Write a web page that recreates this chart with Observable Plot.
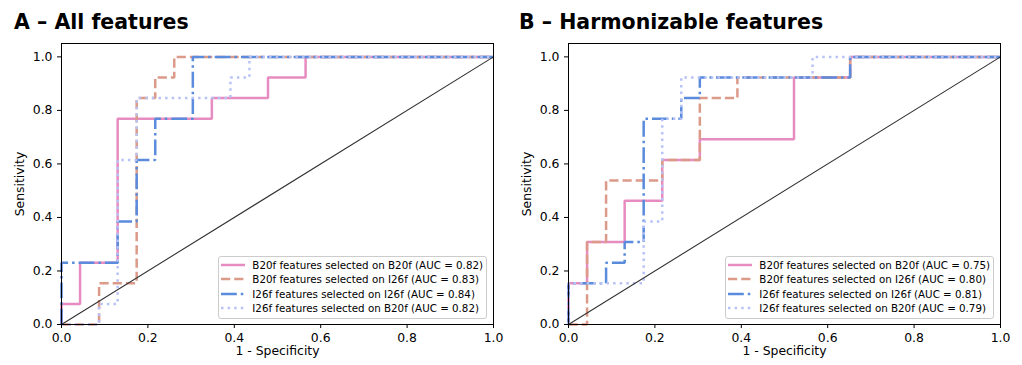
<!DOCTYPE html>
<html><head><meta charset="utf-8">
<script src="https://cdn.jsdelivr.net/npm/d3@7"></script>
<script src="https://cdn.jsdelivr.net/npm/@observablehq/plot@0.6"></script>
<style>
body{margin:0;background:#fff;}
#wrap{position:relative;width:1022px;height:365px;overflow:hidden;background:#fff;}
.panel{position:absolute;top:0;}
#titles{position:absolute;left:0;top:0;}
.legend{position:absolute;background:rgba(255,255,255,0.8);border:1px solid #cccccc;border-radius:3px;
  font-family:"DejaVu Sans",sans-serif;font-size:10.3px;color:#000;padding:1px 3px 2px 2px;}
.row{display:flex;align-items:center;height:14.5px;white-space:nowrap;}
.row svg{margin-right:7px;flex:none;}
</style></head><body>
<div id="wrap"></div>
<script>
// ---------- texts ----------
const panelTitles = ["A \u2013 All features", "B \u2013 Harmonizable features"];
const seriesNames = [
  "B20f features selected on B20f",
  "B20f features selected on I26f",
  "I26f features selected on I26f",
  "I26f features selected on B20f"
];
const aucA = [0.82, 0.83, 0.84, 0.82];
const aucB = [0.75, 0.80, 0.81, 0.79];
const xLabel = "1 - Specificity";
const yLabel = "Sensitivity";
const xTicks = [0, 0.2, 0.4, 0.6, 0.8, 1.0];
const yTicks = [0, 0.2, 0.4, 0.6, 0.8, 1.0];
const chanceLine = [0, 1];

// ---------- panel A: ROC points (1 - specificity, sensitivity) ----------
const fprA_b20b20 = [0, 0, 0.043, 0.043, 0.130, 0.130, 0.348, 0.348, 0.478, 0.478, 0.565, 0.565, 1];
const tprA_b20b20 = [0, 0.077, 0.077, 0.231, 0.231, 0.769, 0.769, 0.846, 0.846, 0.923, 0.923, 1, 1];
const fprA_b20i26 = [0, 0.087, 0.087, 0.174, 0.174, 0.217, 0.217, 0.261, 0.261, 1];
const tprA_b20i26 = [0, 0, 0.154, 0.154, 0.846, 0.846, 0.923, 0.923, 1, 1];
const fprA_i26i26 = [0, 0, 0.130, 0.130, 0.174, 0.174, 0.217, 0.217, 0.304, 0.304, 1];
const tprA_i26i26 = [0, 0.231, 0.231, 0.385, 0.385, 0.615, 0.615, 0.769, 0.769, 1, 1];
const fprA_i26b20 = [0, 0.087, 0.087, 0.130, 0.130, 0.174, 0.174, 0.391, 0.391, 0.435, 0.435, 1];
const tprA_i26b20 = [0, 0, 0.077, 0.077, 0.615, 0.615, 0.846, 0.846, 0.923, 0.923, 1, 1];

// ---------- panel B ----------
const fprB_b20b20 = [0, 0, 0.043, 0.043, 0.130, 0.130, 0.217, 0.217, 0.304, 0.304, 0.522, 0.522, 0.652, 0.652, 1];
const tprB_b20b20 = [0, 0.154, 0.154, 0.308, 0.308, 0.462, 0.462, 0.615, 0.615, 0.692, 0.692, 0.923, 0.923, 1, 1];
const fprB_b20i26 = [0, 0.043, 0.043, 0.087, 0.087, 0.217, 0.217, 0.304, 0.304, 0.391, 0.391, 0.652, 0.652, 1];
const tprB_b20i26 = [0, 0, 0.308, 0.308, 0.538, 0.538, 0.615, 0.615, 0.846, 0.846, 0.923, 0.923, 1, 1];
const fprB_i26i26 = [0, 0, 0.087, 0.087, 0.130, 0.130, 0.174, 0.174, 0.261, 0.261, 0.304, 0.304, 0.652, 0.652, 1];
const tprB_i26i26 = [0, 0.154, 0.154, 0.231, 0.231, 0.308, 0.308, 0.769, 0.769, 0.846, 0.846, 0.923, 0.923, 1, 1];
const fprB_i26b20 = [0, 0, 0.174, 0.174, 0.217, 0.217, 0.261, 0.261, 0.565, 0.565, 1];
const tprB_i26b20 = [0, 0.154, 0.154, 0.385, 0.385, 0.769, 0.769, 0.923, 0.923, 1, 1];

// ---------- styles ----------
const seriesColors = ["#e78cc1", "#dc9a88", "#5b8bdc", "#b7c3f6"];
const seriesDashes = ["none", "9.2,4", "15.8,4,2.5,4", "2.5,4.1"];
const lineWidth = 2.5;

const panels = [
  {title: panelTitles[0], auc: aucA, left: 0, marginLeft: 61, marginRight: 11,
   series: [[fprA_b20b20, tprA_b20b20], [fprA_b20i26, tprA_b20i26], [fprA_i26i26, tprA_i26i26], [fprA_i26b20, tprA_i26b20]]},
  {title: panelTitles[1], auc: aucB, left: 507, marginLeft: 61, marginRight: 11,
   series: [[fprB_b20b20, tprB_b20b20], [fprB_b20i26, tprB_b20i26], [fprB_i26i26, tprB_i26i26], [fprB_i26b20, tprB_i26b20]]}
];
const W = 504, H = 365, MT = 43, MB = 41;

const wrap = document.getElementById("wrap");

function rocPlot(p) {
  const marks = [];
  p.series.forEach(([fpr, tpr], i) => {
    const rows = fpr.map((x, j) => ({x, y: tpr[j]}));
    marks.push(Plot.line(rows, {
      x: "x", y: "y", stroke: seriesColors[i], strokeWidth: lineWidth,
      strokeDasharray: seriesDashes[i], strokeLinecap: "butt", strokeLinejoin: "miter"
    }));
  });
  marks.push(Plot.line(chanceLine.map(v => ({x: v, y: v})), {x: "x", y: "y", stroke: "#333333", strokeWidth: 1.1}));
  marks.push(Plot.frame({stroke: "#000", strokeWidth: 1}));
  marks.push(Plot.axisX({ticks: xTicks, tickFormat: d3.format(".1f"), tickSize: 4, tickPadding: 5,
    label: xLabel, labelAnchor: "center", labelArrow: "none", labelOffset: 30}));
  marks.push(Plot.axisY({ticks: yTicks, tickFormat: d3.format(".1f"), tickSize: 4, tickPadding: 5,
    label: yLabel, labelAnchor: "center", labelArrow: "none", labelOffset: 46}));
  return Plot.plot({
    width: W, height: H, marginLeft: p.marginLeft, marginRight: p.marginRight, marginTop: MT, marginBottom: MB,
    x: {domain: [0, 1]}, y: {domain: [0, 1.05]},
    style: {fontFamily: "'DejaVu Sans', sans-serif", fontSize: "12.4px", color: "#000", background: "transparent", overflow: "visible"},
    marks
  });
}

panels.forEach((p, k) => {
  const div = document.createElement("div");
  div.className = "panel";
  div.style.left = p.left + "px";
  div.appendChild(rocPlot(p));
  wrap.appendChild(div);

  // legend (lower right of frame)
  const lg = document.createElement("div");
  lg.className = "legend";
  lg.style.right = (1022 - (p.left + W - p.marginRight - 6)) + "px";
  lg.style.bottom = (MB + 5.5) + "px";
  seriesNames.forEach((name, i) => {
    const row = document.createElement("div");
    row.className = "row";
    const sw = d3.create("svg").attr("width", 24).attr("height", 10);
    sw.append("line").attr("x1", 0).attr("x2", 24).attr("y1", 5).attr("y2", 5)
      .attr("stroke", seriesColors[i]).attr("stroke-width", lineWidth)
      .attr("stroke-dasharray", seriesDashes[i]);
    row.appendChild(sw.node());
    const t = document.createElement("span");
    t.textContent = `${name} (AUC = ${p.auc[i].toFixed(2)})`;
    row.appendChild(t);
    lg.appendChild(row);
  });
  wrap.appendChild(lg);
});

// titles
const ts = d3.create("svg").attr("id", "titles").attr("width", 1022).attr("height", 40);
[[14, panelTitles[0]], [519, panelTitles[1]]].forEach(([x, s]) => {
  ts.append("text").attr("x", x).attr("y", 29.3)
    .attr("font-family", "'DejaVu Sans', sans-serif").attr("font-weight", 700).attr("font-size", 20.5)
    .attr("fill", "#000").text(s);
});
wrap.appendChild(ts.node());
</script>
</body></html>
